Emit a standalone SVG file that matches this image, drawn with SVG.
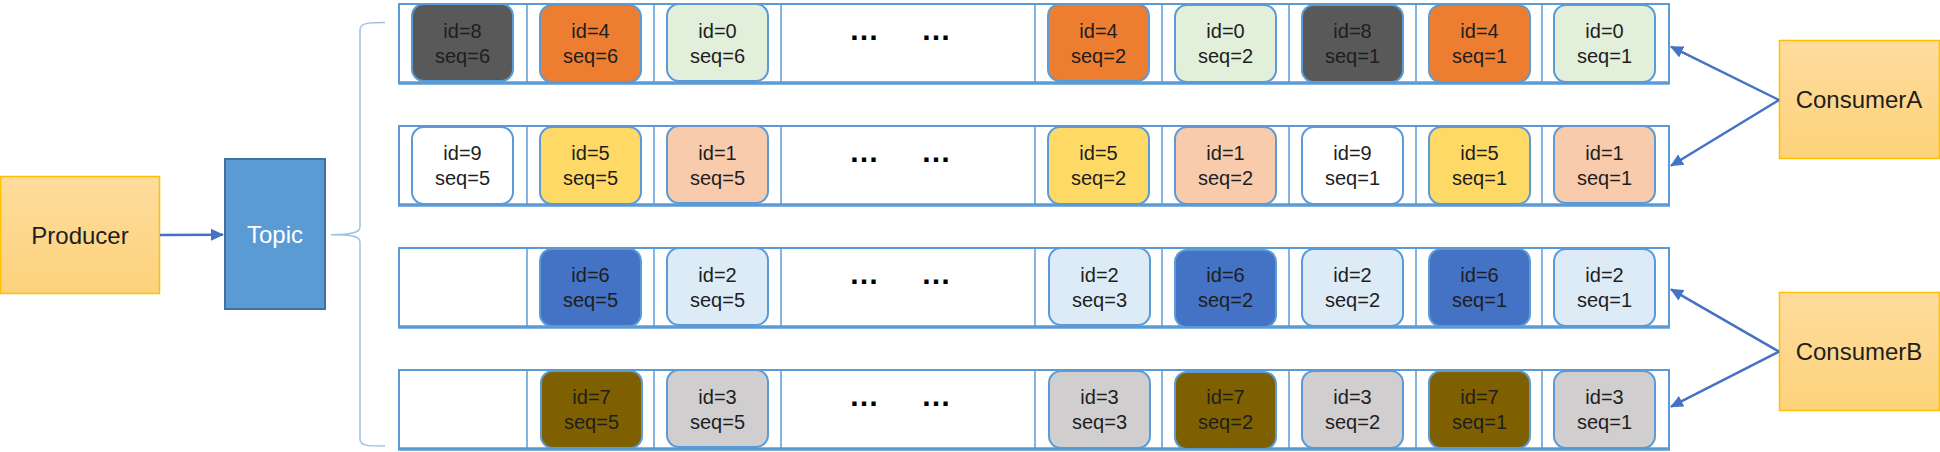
<svg xmlns="http://www.w3.org/2000/svg" width="1940" height="452" viewBox="0 0 1940 452">
<style>
text{font-family:"Liberation Sans",Arial,sans-serif;fill:#1e1e1e;text-anchor:middle}
.m{font-size:20px}
.big{font-size:24px}
.row{fill:#fff;stroke:#5B9BD5;stroke-width:2}
.rowb{stroke:#5B9BD5;stroke-width:3.5}
.div{stroke:#5B9BD5;stroke-width:1.5}
.box{stroke:#5B9BD5;stroke-width:2}
.c8{fill:#595959}.c4{fill:#ED7D31}.c0{fill:#E2EFDA}
.c9{fill:#fff}.c5{fill:#FFD966}.c1{fill:#F8CBAD}
.c6{fill:#4472C4}.c2{fill:#DDEBF7}
.c7{fill:#7F6000}.c3{fill:#D0CECE}
.con{stroke:#4472C4;stroke-width:2.5;fill:none}
.dots{font-size:30px;font-weight:bold;fill:#000}
</style>
<defs>
<linearGradient id="gy" x1="0" y1="0" x2="0" y2="1">
<stop offset="0" stop-color="#FEDC9D"/>
<stop offset="1" stop-color="#FDD27B"/>
</linearGradient>
<marker id="ah" markerUnits="userSpaceOnUse" markerWidth="14" markerHeight="12" refX="12" refY="6" orient="auto">
<path d="M0,0 L13,6 L0,12 z" fill="#4472C4"/>
</marker>
<g id="rowframe">
<rect class="row" x="399" y="0" width="1270" height="79"/>
<line class="rowb" x1="398" y1="79" x2="1670" y2="79"/>
<line class="div" x1="527" y1="0" x2="527" y2="79"/>
<line class="div" x1="654" y1="0" x2="654" y2="79"/>
<line class="div" x1="781" y1="0" x2="781" y2="79"/>
<line class="div" x1="1035" y1="0" x2="1035" y2="79"/>
<line class="div" x1="1162" y1="0" x2="1162" y2="79"/>
<line class="div" x1="1289" y1="0" x2="1289" y2="79"/>
<line class="div" x1="1416" y1="0" x2="1416" y2="79"/>
<line class="div" x1="1542" y1="0" x2="1542" y2="79"/>
<text class="dots" x="864" y="36">…</text>
<text class="dots" x="936" y="36">…</text>
</g>
</defs>

<g id="producer">
<rect x="0.5" y="176.5" width="159" height="117" fill="url(#gy)" stroke="#FFC000" stroke-width="1.5"/>
<text class="big" x="80" y="244">Producer</text>
</g>
<g id="topic">
<rect x="225" y="159" width="100" height="150" fill="#5B9BD5" stroke="#41719C" stroke-width="2"/>
<text class="big" x="275" y="243" style="fill:#fff">Topic</text>
</g>
<g id="consumerA">
<rect x="1779.5" y="40.5" width="160" height="118" fill="url(#gy)" stroke="#FFC000" stroke-width="1.5"/>
<text class="big" x="1859" y="108">ConsumerA</text>
</g>
<g id="consumerB">
<rect x="1779.5" y="292.5" width="160" height="118" fill="url(#gy)" stroke="#FFC000" stroke-width="1.5"/>
<text class="big" x="1859" y="360">ConsumerB</text>
</g>

<g id="brace">
<path d="M385,22.5 C368,22.5 360,23 360,30 L360,227 C360,233 350,234.7 331,234.7 C350,234.7 360,236 360,242 L360,439 C360,446 368,446 385,446" fill="none" stroke="#9DC3E6" stroke-width="1.5"/>
</g>

<g id="partition0" transform="translate(0,4)">
<use href="#rowframe"/>
<rect class="box c8" x="412" y="0" width="101" height="77" rx="12"/><text class="m" x="462.5" y="34">id=8</text><text class="m" x="462.5" y="59">seq=6</text>
<rect class="box c4" x="540" y="1" width="101" height="77" rx="12"/><text class="m" x="590.5" y="34">id=4</text><text class="m" x="590.5" y="59">seq=6</text>
<rect class="box c0" x="667" y="0" width="101" height="77" rx="12"/><text class="m" x="717.5" y="34">id=0</text><text class="m" x="717.5" y="59">seq=6</text>
<rect class="box c4" x="1048" y="0" width="101" height="77" rx="12"/><text class="m" x="1098.5" y="34">id=4</text><text class="m" x="1098.5" y="59">seq=2</text>
<rect class="box c0" x="1175" y="1" width="101" height="77" rx="12"/><text class="m" x="1225.5" y="34">id=0</text><text class="m" x="1225.5" y="59">seq=2</text>
<rect class="box c8" x="1302" y="1" width="101" height="77" rx="12"/><text class="m" x="1352.5" y="34">id=8</text><text class="m" x="1352.5" y="59">seq=1</text>
<rect class="box c4" x="1429" y="1" width="101" height="77" rx="12"/><text class="m" x="1479.5" y="34">id=4</text><text class="m" x="1479.5" y="59">seq=1</text>
<rect class="box c0" x="1554" y="1" width="101" height="77" rx="12"/><text class="m" x="1604.5" y="34">id=0</text><text class="m" x="1604.5" y="59">seq=1</text>
</g>

<g id="partition1" transform="translate(0,126)">
<use href="#rowframe"/>
<rect class="box c9" x="412" y="1" width="101" height="77" rx="12"/><text class="m" x="462.5" y="34">id=9</text><text class="m" x="462.5" y="59">seq=5</text>
<rect class="box c5" x="540" y="1" width="101" height="77" rx="12"/><text class="m" x="590.5" y="34">id=5</text><text class="m" x="590.5" y="59">seq=5</text>
<rect class="box c1" x="667" y="0" width="101" height="77" rx="12"/><text class="m" x="717.5" y="34">id=1</text><text class="m" x="717.5" y="59">seq=5</text>
<rect class="box c5" x="1048" y="1" width="101" height="77" rx="12"/><text class="m" x="1098.5" y="34">id=5</text><text class="m" x="1098.5" y="59">seq=2</text>
<rect class="box c1" x="1175" y="1" width="101" height="77" rx="12"/><text class="m" x="1225.5" y="34">id=1</text><text class="m" x="1225.5" y="59">seq=2</text>
<rect class="box c9" x="1302" y="1" width="101" height="77" rx="12"/><text class="m" x="1352.5" y="34">id=9</text><text class="m" x="1352.5" y="59">seq=1</text>
<rect class="box c5" x="1429" y="1" width="101" height="77" rx="12"/><text class="m" x="1479.5" y="34">id=5</text><text class="m" x="1479.5" y="59">seq=1</text>
<rect class="box c1" x="1554" y="0" width="101" height="77" rx="12"/><text class="m" x="1604.5" y="34">id=1</text><text class="m" x="1604.5" y="59">seq=1</text>
</g>

<g id="partition2" transform="translate(0,248)">
<use href="#rowframe"/>
<rect class="box c6" x="540" y="1" width="101" height="77" rx="12"/><text class="m" x="590.5" y="34">id=6</text><text class="m" x="590.5" y="59">seq=5</text>
<rect class="box c2" x="667" y="0" width="101" height="77" rx="12"/><text class="m" x="717.5" y="34">id=2</text><text class="m" x="717.5" y="59">seq=5</text>
<rect class="box c2" x="1049" y="0" width="101" height="77" rx="12"/><text class="m" x="1099.5" y="34">id=2</text><text class="m" x="1099.5" y="59">seq=3</text>
<rect class="box c6" x="1175" y="2" width="101" height="77" rx="12"/><text class="m" x="1225.5" y="34">id=6</text><text class="m" x="1225.5" y="59">seq=2</text>
<rect class="box c2" x="1302" y="1" width="101" height="77" rx="12"/><text class="m" x="1352.5" y="34">id=2</text><text class="m" x="1352.5" y="59">seq=2</text>
<rect class="box c6" x="1429" y="1" width="101" height="77" rx="12"/><text class="m" x="1479.5" y="34">id=6</text><text class="m" x="1479.5" y="59">seq=1</text>
<rect class="box c2" x="1554" y="1" width="101" height="77" rx="12"/><text class="m" x="1604.5" y="34">id=2</text><text class="m" x="1604.5" y="59">seq=1</text>
</g>

<g id="partition3" transform="translate(0,370)">
<use href="#rowframe"/>
<rect class="box c7" x="541" y="1" width="101" height="77" rx="12"/><text class="m" x="591.5" y="34">id=7</text><text class="m" x="591.5" y="59">seq=5</text>
<rect class="box c3" x="667" y="0" width="101" height="77" rx="12"/><text class="m" x="717.5" y="34">id=3</text><text class="m" x="717.5" y="59">seq=5</text>
<rect class="box c3" x="1049" y="1" width="101" height="77" rx="12"/><text class="m" x="1099.5" y="34">id=3</text><text class="m" x="1099.5" y="59">seq=3</text>
<rect class="box c7" x="1175" y="2" width="101" height="77" rx="12"/><text class="m" x="1225.5" y="34">id=7</text><text class="m" x="1225.5" y="59">seq=2</text>
<rect class="box c3" x="1302" y="1" width="101" height="77" rx="12"/><text class="m" x="1352.5" y="34">id=3</text><text class="m" x="1352.5" y="59">seq=2</text>
<rect class="box c7" x="1429" y="1" width="101" height="77" rx="12"/><text class="m" x="1479.5" y="34">id=7</text><text class="m" x="1479.5" y="59">seq=1</text>
<rect class="box c3" x="1554" y="1" width="101" height="77" rx="12"/><text class="m" x="1604.5" y="34">id=3</text><text class="m" x="1604.5" y="59">seq=1</text>
</g>

<g id="connectors">
<line class="con" x1="160" y1="235" x2="223" y2="234.7" marker-end="url(#ah)"/>
<line class="con" x1="1779" y1="100" x2="1671" y2="46.7" marker-end="url(#ah)"/>
<line class="con" x1="1779" y1="100" x2="1671" y2="165.7" marker-end="url(#ah)"/>
<line class="con" x1="1779" y1="351.7" x2="1671" y2="289.3" marker-end="url(#ah)"/>
<line class="con" x1="1779" y1="351.7" x2="1671" y2="406.7" marker-end="url(#ah)"/>
</g>
</svg>
